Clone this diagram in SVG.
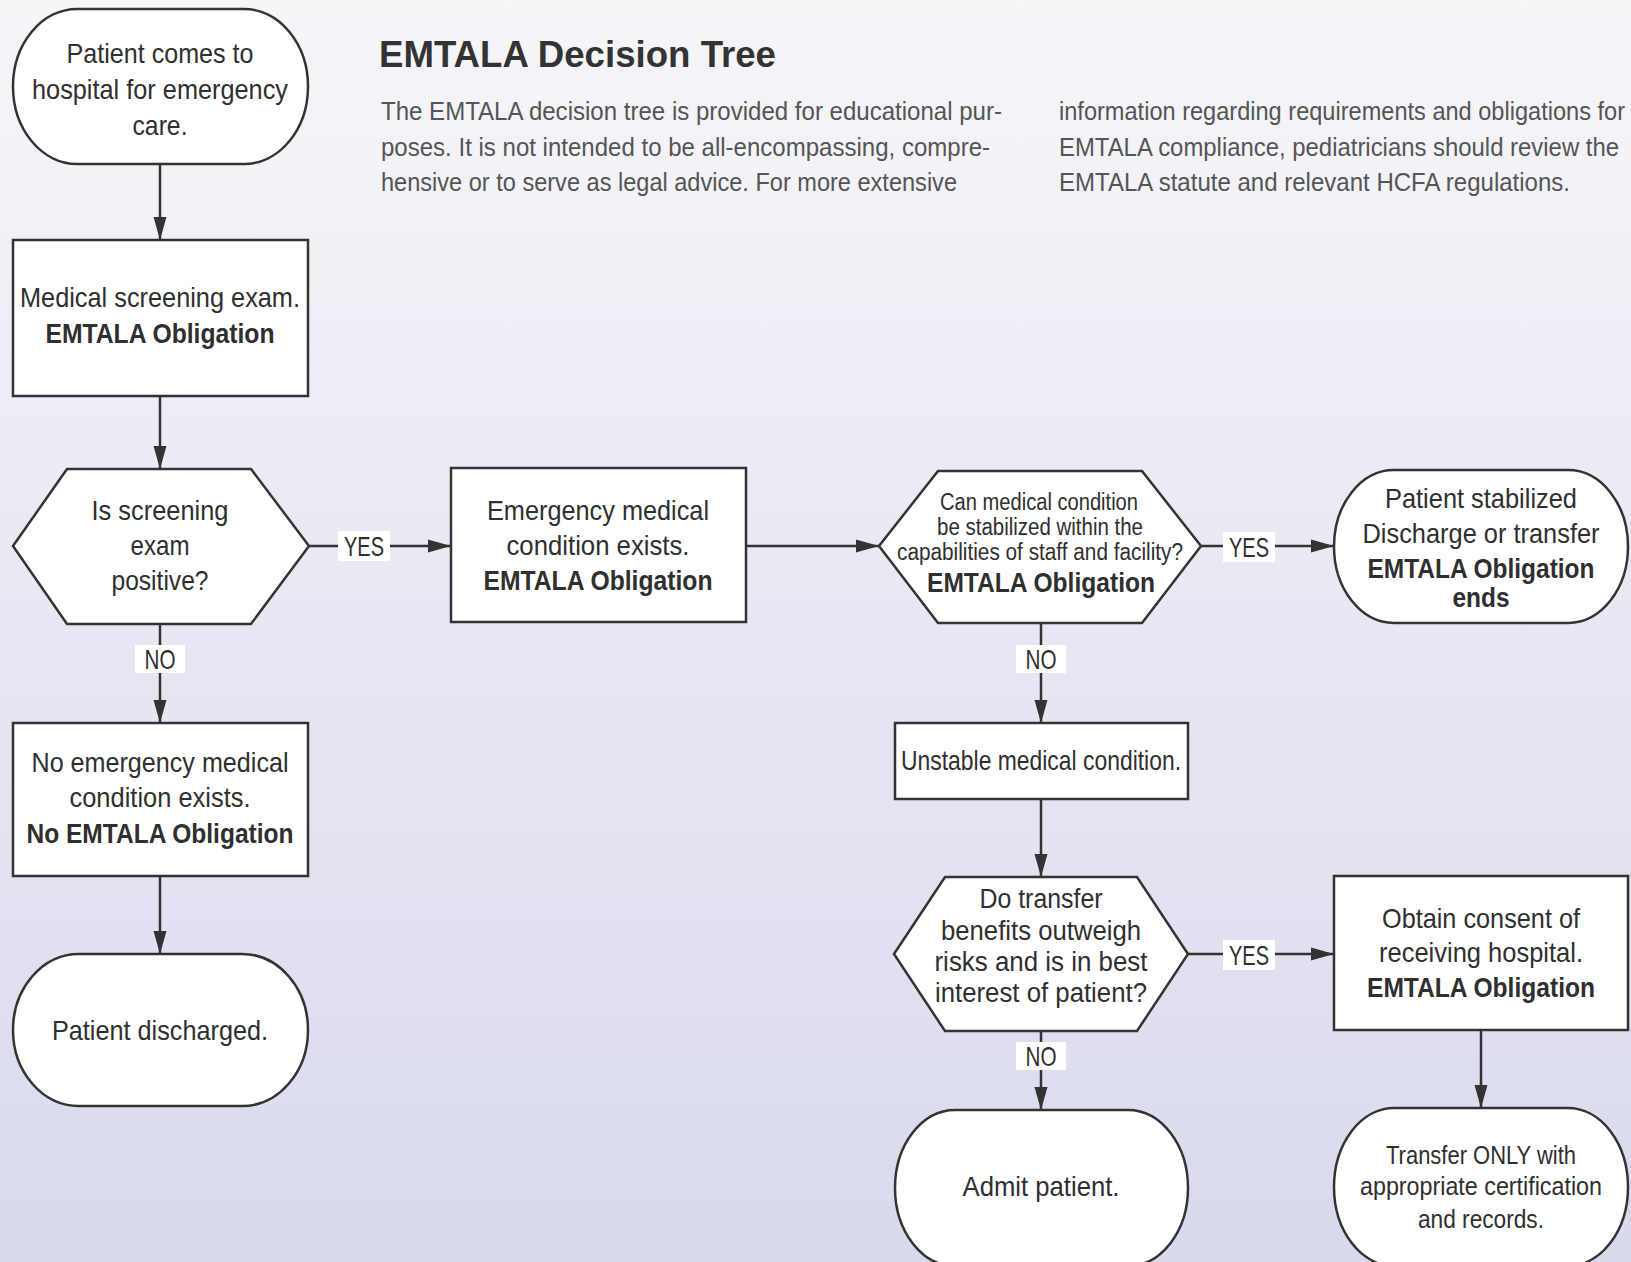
<svg xmlns="http://www.w3.org/2000/svg" width="1631" height="1262" viewBox="0 0 1631 1262">
<defs>
<linearGradient id="bg" x1="0" y1="0" x2="0" y2="1">
<stop offset="0" stop-color="#f6f6f9"/>
<stop offset="1" stop-color="#d9d9ee"/>
</linearGradient>
<marker id="arr" markerUnits="userSpaceOnUse" markerWidth="23" markerHeight="14" refX="23" refY="7" orient="auto">
<path d="M0,0.5 L23,7 L0,13.5 z" fill="#333"/>
</marker>
<style>
.shape{fill:#fff;stroke:#333;stroke-width:2.5}
.t{font-family:"Liberation Sans",Arial,sans-serif;font-size:28px;fill:#2f2f2f;text-anchor:middle}
.b{font-weight:bold}
.s{font-size:23px}
.m{font-size:26px}
.h{font-size:27px}
.lbl{fill:#fff}
.lt{font-family:"Liberation Sans",Arial,sans-serif;font-size:28px;fill:#2f2f2f;text-anchor:middle}
.con{stroke:#333;stroke-width:2.5;fill:none}
.title{font-family:"Liberation Sans",Arial,sans-serif;font-size:36px;font-weight:bold;fill:#333}
.body{font-family:"Liberation Sans",Arial,sans-serif;font-size:25px;fill:#555}
</style>
</defs>
<rect x="0" y="0" width="1631" height="1262" fill="url(#bg)"/>

<g id="header">
<text class="title" x="379" y="67" textLength="397" lengthAdjust="spacingAndGlyphs">EMTALA Decision Tree</text>
<text class="body" x="381" y="120" textLength="621" lengthAdjust="spacingAndGlyphs">The EMTALA decision tree is provided for educational pur-</text>
<text class="body" x="381" y="155.5" textLength="609" lengthAdjust="spacingAndGlyphs">poses. It is not intended to be all-encompassing, compre-</text>
<text class="body" x="381" y="191" textLength="576" lengthAdjust="spacingAndGlyphs">hensive or to serve as legal advice. For more extensive</text>
<text class="body" x="1059" y="120" textLength="566" lengthAdjust="spacingAndGlyphs">information regarding requirements and obligations for</text>
<text class="body" x="1059" y="155.5" textLength="560" lengthAdjust="spacingAndGlyphs">EMTALA compliance, pediatricians should review the</text>
<text class="body" x="1059" y="191" textLength="511" lengthAdjust="spacingAndGlyphs">EMTALA statute and relevant HCFA regulations.</text>
</g>

<g id="connectors">
<line class="con" x1="160" y1="164" x2="160" y2="240" marker-end="url(#arr)"/>
<line class="con" x1="160" y1="396" x2="160" y2="469" marker-end="url(#arr)"/>
<line class="con" x1="160" y1="624" x2="160" y2="723" marker-end="url(#arr)"/>
<line class="con" x1="160" y1="876" x2="160" y2="954" marker-end="url(#arr)"/>
<line class="con" x1="309" y1="546" x2="451" y2="546" marker-end="url(#arr)"/>
<line class="con" x1="746" y1="546" x2="879" y2="546" marker-end="url(#arr)"/>
<line class="con" x1="1201" y1="546" x2="1334" y2="546" marker-end="url(#arr)"/>
<line class="con" x1="1041" y1="623" x2="1041" y2="723" marker-end="url(#arr)"/>
<line class="con" x1="1041" y1="799" x2="1041" y2="877" marker-end="url(#arr)"/>
<line class="con" x1="1188" y1="954" x2="1334" y2="954" marker-end="url(#arr)"/>
<line class="con" x1="1041" y1="1031" x2="1041" y2="1110" marker-end="url(#arr)"/>
<line class="con" x1="1481" y1="1030" x2="1481" y2="1108" marker-end="url(#arr)"/>
<rect class="lbl" x="338" y="531" width="52" height="30"/>
<text class="lt" x="364" y="556" textLength="40" lengthAdjust="spacingAndGlyphs">YES</text>
<rect class="lbl" x="1223" y="532" width="52" height="30"/>
<text class="lt" x="1249" y="557" textLength="40" lengthAdjust="spacingAndGlyphs">YES</text>
<rect class="lbl" x="1223" y="940" width="52" height="30"/>
<text class="lt" x="1249" y="965" textLength="40" lengthAdjust="spacingAndGlyphs">YES</text>
<rect class="lbl" x="135" y="645" width="50" height="28"/>
<text class="lt" x="160" y="669" textLength="31" lengthAdjust="spacingAndGlyphs">NO</text>
<rect class="lbl" x="1016" y="645" width="50" height="28"/>
<text class="lt" x="1041" y="669" textLength="31" lengthAdjust="spacingAndGlyphs">NO</text>
<rect class="lbl" x="1016" y="1042" width="50" height="28"/>
<text class="lt" x="1041" y="1066" textLength="31" lengthAdjust="spacingAndGlyphs">NO</text>
</g>

<g id="n1">
<rect class="shape" x="13" y="9" width="295" height="155" rx="64" ry="77.5"/>
<text class="t" x="160" y="63" textLength="187" lengthAdjust="spacingAndGlyphs">Patient comes to</text>
<text class="t" x="160" y="99" textLength="256" lengthAdjust="spacingAndGlyphs">hospital for emergency</text>
<text class="t" x="160" y="135" textLength="55" lengthAdjust="spacingAndGlyphs">care.</text>
</g>

<g id="n2">
<rect class="shape" x="13" y="240" width="295" height="156"/>
<text class="t" x="160" y="307" textLength="280" lengthAdjust="spacingAndGlyphs">Medical screening exam.</text>
<text class="t b" x="160" y="343" textLength="229" lengthAdjust="spacingAndGlyphs">EMTALA Obligation</text>
</g>

<g id="n3">
<polygon class="shape" points="13,546 67,469 251,469 309,546 251,624 67,624"/>
<text class="t" x="160" y="520" textLength="137" lengthAdjust="spacingAndGlyphs">Is screening</text>
<text class="t" x="160" y="555" textLength="59" lengthAdjust="spacingAndGlyphs">exam</text>
<text class="t" x="160" y="590" textLength="97" lengthAdjust="spacingAndGlyphs">positive?</text>
</g>

<g id="n4">
<rect class="shape" x="451" y="468" width="295" height="154"/>
<text class="t" x="598" y="520" textLength="222" lengthAdjust="spacingAndGlyphs">Emergency medical</text>
<text class="t" x="598" y="555" textLength="183" lengthAdjust="spacingAndGlyphs">condition exists.</text>
<text class="t b" x="598" y="590" textLength="229" lengthAdjust="spacingAndGlyphs">EMTALA Obligation</text>
</g>

<g id="n5">
<polygon class="shape" points="879,546 938,471 1142,471 1201,546 1142,623 938,623"/>
<text class="t s" x="1039" y="510" textLength="198" lengthAdjust="spacingAndGlyphs">Can medical condition</text>
<text class="t s" x="1040" y="535" textLength="206" lengthAdjust="spacingAndGlyphs">be stabilized within the</text>
<text class="t s" x="1040" y="560" textLength="286" lengthAdjust="spacingAndGlyphs">capabilities of staff and facility?</text>
<text class="t b" x="1041" y="592" textLength="228" lengthAdjust="spacingAndGlyphs">EMTALA Obligation</text>
</g>

<g id="n6">
<rect class="shape" x="1334" y="470" width="294" height="153" rx="60" ry="76.5"/>
<text class="t" x="1481" y="508" textLength="192" lengthAdjust="spacingAndGlyphs">Patient stabilized</text>
<text class="t" x="1481" y="543" textLength="237" lengthAdjust="spacingAndGlyphs">Discharge or transfer</text>
<text class="t b" x="1481" y="578" textLength="227" lengthAdjust="spacingAndGlyphs">EMTALA Obligation</text>
<text class="t b" x="1481" y="607" textLength="57" lengthAdjust="spacingAndGlyphs">ends</text>
</g>

<g id="n7">
<rect class="shape" x="13" y="723" width="295" height="153"/>
<text class="t" x="160" y="772" textLength="257" lengthAdjust="spacingAndGlyphs">No emergency medical</text>
<text class="t" x="160" y="807" textLength="181" lengthAdjust="spacingAndGlyphs">condition exists.</text>
<text class="t b" x="160" y="843" textLength="267" lengthAdjust="spacingAndGlyphs">No EMTALA Obligation</text>
</g>

<g id="n8">
<rect class="shape" x="13" y="954" width="295" height="152" rx="66" ry="76"/>
<text class="t" x="160" y="1040" textLength="216" lengthAdjust="spacingAndGlyphs">Patient discharged.</text>
</g>

<g id="n9">
<rect class="shape" x="895" y="723" width="293" height="76"/>
<text class="t" x="1041" y="770" textLength="280" lengthAdjust="spacingAndGlyphs">Unstable medical condition.</text>
</g>

<g id="n10">
<polygon class="shape" points="894,954 945,877 1137,877 1188,954 1137,1031 945,1031"/>
<text class="t h" x="1041" y="908" textLength="123" lengthAdjust="spacingAndGlyphs">Do transfer</text>
<text class="t h" x="1041" y="940" textLength="200" lengthAdjust="spacingAndGlyphs">benefits outweigh</text>
<text class="t h" x="1041" y="971" textLength="213" lengthAdjust="spacingAndGlyphs">risks and is in best</text>
<text class="t h" x="1041" y="1002" textLength="212" lengthAdjust="spacingAndGlyphs">interest of patient?</text>
</g>

<g id="n11">
<rect class="shape" x="1334" y="876" width="294" height="154"/>
<text class="t" x="1481" y="928" textLength="198" lengthAdjust="spacingAndGlyphs">Obtain consent of</text>
<text class="t" x="1481" y="962" textLength="204" lengthAdjust="spacingAndGlyphs">receiving hospital.</text>
<text class="t b" x="1481" y="997" textLength="228" lengthAdjust="spacingAndGlyphs">EMTALA Obligation</text>
</g>

<g id="n12">
<rect class="shape" x="895" y="1110" width="293" height="156" rx="60" ry="78"/>
<text class="t" x="1041" y="1196" textLength="157" lengthAdjust="spacingAndGlyphs">Admit patient.</text>
</g>

<g id="n13">
<rect class="shape" x="1334" y="1108" width="294" height="158" rx="60" ry="79"/>
<text class="t m" x="1481" y="1164" textLength="190" lengthAdjust="spacingAndGlyphs">Transfer ONLY with</text>
<text class="t m" x="1481" y="1195" textLength="242" lengthAdjust="spacingAndGlyphs">appropriate certification</text>
<text class="t m" x="1481" y="1228" textLength="126" lengthAdjust="spacingAndGlyphs">and records.</text>
</g>
</svg>
